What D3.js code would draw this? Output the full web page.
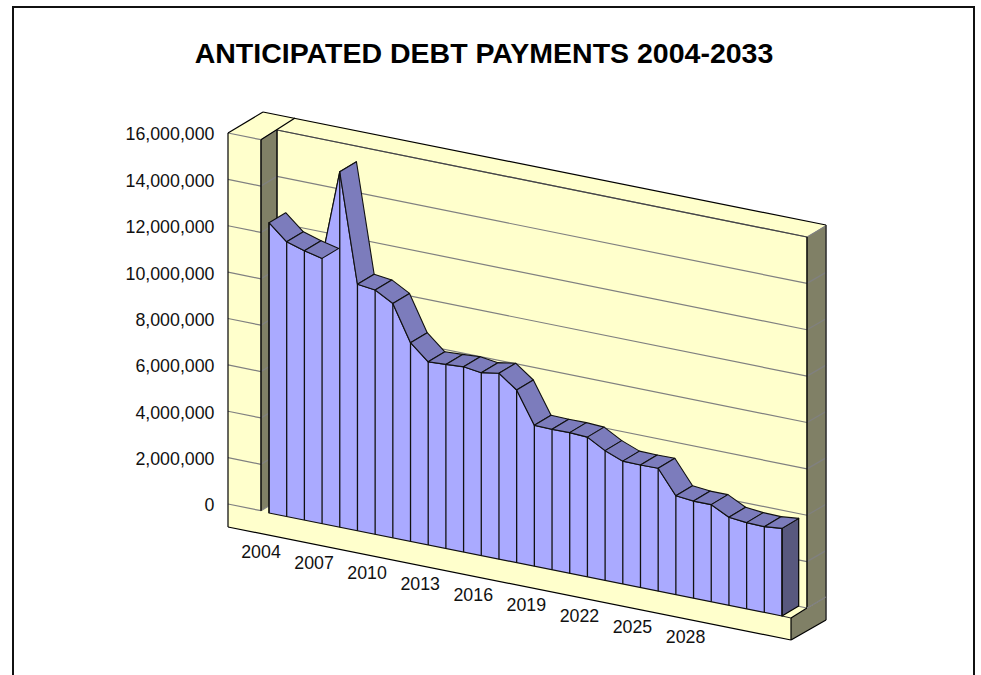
<!DOCTYPE html>
<html>
<head>
<meta charset="utf-8">
<script src="https://cdn.jsdelivr.net/npm/d3@7"></script>
<style>
  html, body { margin: 0; padding: 0; background: #fff; overflow: hidden; }
  svg { display: block; }
  text { font-family: "Liberation Sans", Arial, sans-serif; fill: #111; }
</style>
</head>
<body>
<svg id="chart" width="981" height="675"></svg>
<script>
// Annual debt payments, in dollars
const years = d3.range(2004, 2034);
const payments = [
  12520000, 11850000, 11620000, 11440000, 15330000, 10630000,
  10540000, 10110000, 8570000, 7900000, 7940000, 7990000,
  7890000, 8020000, 7450000, 6080000, 6060000, 6070000,
  6030000, 5600000, 5300000, 5290000, 5300000, 4270000,
  4190000, 4190000, 3800000, 3720000, 3700000, 3780000
];
const valueTicks = [0, 2000000, 4000000, 6000000, 8000000, 10000000, 12000000, 14000000, 16000000];
const yearTicks = [2004, 2007, 2010, 2013, 2016, 2019, 2022, 2025, 2028];
const chartTitle = "ANTICIPATED DEBT PAYMENTS 2004-2033";

// Palette of the 3-D box
const wallYellow = "#ffffcc", wallOlive = "#808066";
const areaFront = "#aaaaff", areaTop = "#7c7cbc", areaSide = "#58587e";
const gridGray = "#808080";

const svg = d3.select("#chart");

// Oblique projection: the horizontal axis runs down to the right,
// depth runs up to the right, height runs straight up.
const px = d3.scaleLinear().domain([2004, 2033]).range([269, 782]);
const py = d3.scaleLinear().domain([2004, 2033]).range([513, 616]);
const rise = d3.scaleLinear().domain([0, 16000000]).range([0, 371]);
const depth = { x: 16.7, y: -10 };
const maxValue = 16000000;

const pt = (year, value = 0, d = 0) => [
  px(year) + d * depth.x,
  py(year) - rise(value) + d * depth.y
];
const pathLine = d3.line();
const poly = (pts, fill, stroke = "#000", w = 1.2) =>
  svg.append("path").attr("d", pathLine(pts) + "Z")
    .attr("fill", fill)
    .attr("stroke", stroke)
    .attr("stroke-width", w)
    .attr("stroke-linejoin", "round");
const seg = (a, b, stroke, w = 1.2, dash = null) =>
  svg.append("line")
    .attr("x1", a[0]).attr("y1", a[1]).attr("x2", b[0]).attr("y2", b[1])
    .attr("stroke", stroke).attr("stroke-width", w)
    .attr("stroke-dasharray", dash);

// Page frame, running off the lower edge
svg.append("rect")
  .attr("x", 13).attr("y", 7).attr("width", 961).attr("height", 680)
  .attr("fill", "#fff").attr("stroke", "#111").attr("stroke-width", 2);

svg.append("text")
  .attr("x", 484).attr("y", 63)
  .attr("text-anchor", "middle")
  .attr("font-size", 28.5).attr("font-weight", "bold")
  .style("fill", "#000")
  .text(chartTitle);

// Zero-level anchors along the box edges
const wall = {
  front: [228, 504],
  inner: [261, 510.7],
  back: [277, 501],
  right: [807, 608],
  rightBack: [826, 597]
};
const up = (p, v) => [p[0], p[1] - rise(v)];
const floorDrop = 23;
const rearLeft = [263, 112], rearInner = [295, 118], rearRight = [826, 225];
const floorCorner = [791, 618], floorBase = [791, 640], floorBaseBack = [826, 620];
const floorBaseFront = [228, wall.front[1] + floorDrop];

// Back wall with its upper slab
poly([up(wall.back, maxValue), up(wall.right, maxValue), wall.right, wall.back], wallYellow, "none");
poly([rearInner, rearRight, up(wall.right, maxValue), up(wall.back, maxValue)], wallYellow, "none");

// Left wall: outer face, top and olive return
poly([up(wall.front, maxValue), up(wall.inner, maxValue), wall.inner, wall.front], wallYellow, "none");
poly([up(wall.front, maxValue), rearLeft, rearInner, up(wall.back, maxValue), up(wall.inner, maxValue)], wallYellow, "none");
poly([up(wall.inner, maxValue), up(wall.back, maxValue), wall.back, wall.inner], wallOlive, "none");

// Right wall olive return
poly([up(wall.right, maxValue), rearRight, wall.rightBack, wall.right], wallOlive, "none");

// Floor: top surface, front face and right end
poly([wall.front, wall.inner, wall.back, wall.right, floorCorner], wallYellow, "none");
poly([wall.front, floorCorner, floorBase, floorBaseFront], wallYellow, "none");
poly([floorCorner, wall.rightBack, floorBaseBack, floorBase], wallOlive, "none");

// Gridlines wrap around the left wall, across the back and over the right wall
valueTicks.forEach(v => {
  seg(up(wall.front, v), up(wall.inner, v), gridGray);
  seg(up(wall.inner, v), up(wall.back, v), gridGray);
  seg(up(wall.back, v), up(wall.right, v), gridGray);
  seg(up(wall.right, v), up(wall.rightBack, v), gridGray);
});

// Box outlines
seg(up(wall.back, maxValue), up(wall.right, maxValue), "#444");
seg(up(wall.front, maxValue), rearLeft, "#000");
seg(rearLeft, rearRight, "#000");
seg(up(wall.inner, maxValue), rearInner, "#000");
seg(up(wall.front, maxValue), floorBaseFront, "#000");
seg(floorBaseFront, floorBase, "#000");
seg(up(wall.inner, maxValue), wall.inner, "#111", 1.6);
seg(up(wall.back, maxValue), wall.back, "#111", 1.6);
seg(up(wall.right, maxValue), wall.right, "#111", 1.6);
seg(rearRight, floorBaseBack, "#333", 1.6);
seg(floorCorner, floorBase, "#000");
seg(floorBase, floorBaseBack, "#000");
seg(floorCorner, wall.right, "#000");
seg(wall.right, wall.rightBack, gridGray, 1.2, "2 1");
seg(pt(2033), floorCorner, "#222", 1);

// Right end cap of the area
poly([pt(2033, payments[29]), pt(2033, payments[29], 1), pt(2033, 0, 1), pt(2033, 0)], areaSide);

// Ribbon across the upper surface of the area, hidden faces first
const ribbon = d3.range(years.length - 1).map(i => ({
  i,
  rising: (py(years[i + 1]) - rise(payments[i + 1])) - (py(years[i]) - rise(payments[i])) < depth.y
}));
const drawRibbon = r => poly([
  pt(years[r.i], payments[r.i]),
  pt(years[r.i + 1], payments[r.i + 1]),
  pt(years[r.i + 1], payments[r.i + 1], 1),
  pt(years[r.i], payments[r.i], 1)
], areaTop, "#111", 1.1);
ribbon.filter(r => r.rising).forEach(drawRibbon);

// Front face of the area
const frontOutline = years.map((y, i) => pt(y, payments[i]));
poly([...frontOutline, pt(2033), pt(2004)], areaFront, "#111", 1.2);
ribbon.filter(r => !r.rising).forEach(drawRibbon);

// Dividers at each year
years.forEach((y, i) => seg(pt(y, payments[i]), pt(y), "#111", 1.3));

// Value axis labels
svg.selectAll("text.value")
  .data(valueTicks)
  .join("text")
  .attr("class", "value")
  .attr("x", 214.5)
  .attr("y", v => up(wall.front, v)[1] + 1)
  .attr("dy", "0.36em")
  .attr("text-anchor", "end")
  .attr("font-size", 17.8)
  .text(d3.format(","));

// Year labels follow the slanted floor edge
svg.selectAll("text.year")
  .data(yearTicks)
  .join("text")
  .attr("class", "year")
  .attr("x", y => px(y) - 8)
  .attr("y", y => py(y) + 45)
  .attr("text-anchor", "middle")
  .attr("font-size", 17.8)
  .text(d => d);
</script>
</body>
</html>
